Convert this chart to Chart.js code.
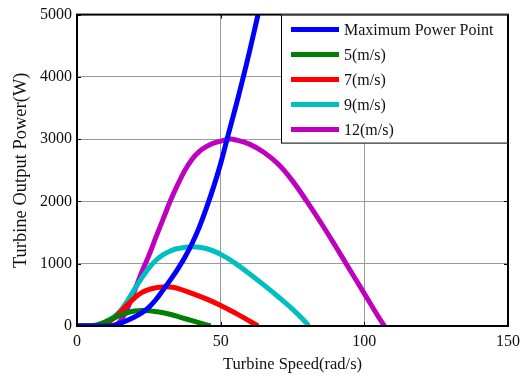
<!DOCTYPE html>
<html>
<head>
<meta charset="utf-8">
<script src="https://cdn.jsdelivr.net/npm/chart.js@4"></script>
<style>
  html, body { margin: 0; padding: 0; background: #fff; }
  #wrap { width: 526px; height: 380px; }
</style>
</head>
<body>
<div id="wrap"><canvas id="power-curves"></canvas></div>
<script>
// turbine output power vs rotor speed, one curve per wind speed + MPP locus
const mppSpeed = [0, 10, 12, 14, 16, 18, 20, 22.5, 25, 27.5, 30, 32.5, 35, 37.5, 40, 42.5, 45, 47.5, 50, 52.5, 55, 57.5, 60, 63];
const mppPower = [0, 0, 5, 25, 60, 100, 145, 210, 300, 425, 580, 740, 910, 1100, 1320, 1580, 1890, 2230, 2610, 3050, 3480, 3930, 4400, 5000];

const v5Speed = [0, 4, 6, 8, 10, 12, 15, 18, 20, 22.5, 25, 28, 30, 33, 36, 40, 43, 46.5];
const v5Power = [0, 0, 10, 35, 70, 110, 170, 220, 240, 250, 245, 228, 212, 180, 140, 85, 45, 0];

const v7Speed = [0, 5, 7, 9, 11, 13, 15, 17.5, 20, 22.5, 25, 27.5, 30, 32.5, 35, 40, 45, 50, 55, 60, 63];
const v7Power = [0, 0, 10, 30, 65, 130, 220, 340, 450, 535, 585, 615, 628, 625, 605, 525, 435, 330, 210, 80, 0];

const v9Speed = [0, 6, 8, 10, 12.5, 15, 17.5, 20, 22.5, 25, 27.5, 30, 32.5, 35, 40, 45, 50, 55, 60, 65, 70, 75, 80, 80.5];
const v9Power = [0, 0, 20, 60, 135, 240, 400, 590, 770, 930, 1055, 1145, 1205, 1245, 1272, 1245, 1150, 1010, 840, 660, 470, 270, 40, 0];

const v12Speed = [0, 10, 12, 14, 16, 18, 20, 22.5, 25, 27.5, 30, 32.5, 35, 37.5, 40, 42.5, 45, 47.5, 50, 53, 55, 60, 65, 70, 75, 80, 85, 90, 95, 100, 105, 107];
const v12Power = [0, 0, 0, 30, 140, 330, 560, 860, 1130, 1430, 1720, 2010, 2265, 2495, 2675, 2800, 2880, 2935, 2968, 3000, 2990, 2920, 2790, 2600, 2330, 2000, 1650, 1280, 900, 520, 140, 0];

const seriesLabels = ['Maximum Power Point', '5(m/s)', '7(m/s)', '9(m/s)', '12(m/s)'];
const seriesColors = ['#0000ff', '#008000', '#ff0000', '#00bfbf', '#bf00bf'];

const xTicks = [0, 50, 100, 150];
const yTicks = [0, 1000, 2000, 3000, 4000, 5000];

const SERIF = '"Liberation Serif", "Times New Roman", serif';
const FONT = { family: SERIF, size: 16 };

const pts = (xs, ys) => xs.map((x, i) => ({ x: x, y: ys[i] }));
const curves = [
  pts(mppSpeed, mppPower),
  pts(v5Speed, v5Power),
  pts(v7Speed, v7Power),
  pts(v9Speed, v9Power),
  pts(v12Speed, v12Power)
];

// box around the axes with short inward tick marks on every side
const axesBox = {
  id: 'axesBox',
  afterDatasetsDraw(chart) {
    const { ctx, chartArea: a, scales } = chart;
    ctx.save();
    ctx.strokeStyle = '#000';
    ctx.lineWidth = 1;
    const len = 4;
    ctx.beginPath();
    xTicks.forEach(v => {
      const px = Math.round(scales.x.getPixelForValue(v)) + 0.5;
      ctx.moveTo(px, a.bottom); ctx.lineTo(px, a.bottom - len);
      ctx.moveTo(px, a.top); ctx.lineTo(px, a.top + len);
    });
    yTicks.forEach(v => {
      const py = Math.round(scales.y.getPixelForValue(v)) + 0.5;
      ctx.moveTo(a.left, py); ctx.lineTo(a.left + len, py);
      ctx.moveTo(a.right, py); ctx.lineTo(a.right - len, py);
    });
    ctx.stroke();
    ctx.lineWidth = 2;
    ctx.strokeRect(a.left, a.top, a.right - a.left, a.bottom - a.top);
    ctx.restore();
  }
};

// legend box in the upper right corner of the plot
const boxLegend = {
  id: 'boxLegend',
  afterDraw(chart) {
    const { ctx, chartArea: a } = chart;
    const w = 227, h = 129;
    const x0 = a.right - w, y0 = a.top;
    ctx.save();
    ctx.fillStyle = '#fff';
    ctx.fillRect(x0, y0, w, h);
    ctx.strokeStyle = '#000';
    ctx.lineWidth = 1;
    ctx.strokeRect(x0 + 0.5, y0 + 0.5, w - 1, h - 1);
    ctx.font = FONT.size + 'px ' + FONT.family;
    ctx.textBaseline = 'middle';
    chart.data.datasets.forEach((ds, i) => {
      const y = y0 + 15 + i * 25;
      ctx.strokeStyle = ds.borderColor;
      ctx.lineWidth = 5;
      ctx.beginPath();
      ctx.moveTo(x0 + 10, y);
      ctx.lineTo(x0 + 58, y);
      ctx.stroke();
      ctx.fillStyle = '#111';
      ctx.fillText(ds.label, x0 + 63, y + 1);
    });
    ctx.restore();
  }
};

const gridColor = max => ctx => (ctx.tick.value === 0 || ctx.tick.value === max) ? 'rgba(0,0,0,0)' : '#9a9a9a';

new Chart(document.getElementById('power-curves'), {
  type: 'line',
  data: {
    datasets: curves.map((c, i) => ({
      label: seriesLabels[i],
      data: c,
      borderColor: seriesColors[i],
      backgroundColor: seriesColors[i],
      borderWidth: 5,
      pointRadius: 0,
      fill: false,
      tension: 0.4,
      clip: 0
    }))
  },
  options: {
    responsive: true,
    maintainAspectRatio: false,
    animation: false,
    layout: {
      padding: { left: 0, top: 10, right: 18, bottom: 0 }
    },
    plugins: {
      legend: { display: false },
      tooltip: { enabled: false }
    },
    scales: {
      x: {
        type: 'linear',
        min: 0,
        max: 150,
        afterBuildTicks: s => { s.ticks = xTicks.map(v => ({ value: v })); },
        afterFit: s => { s.height = 54; },
        ticks: { font: FONT, color: '#111', padding: 6, maxRotation: 0, callback: v => String(v) },
        grid: { color: gridColor(150), drawTicks: false, lineWidth: 1 },
        border: { display: false },
        title: { display: true, text: 'Turbine Speed(rad/s)', font: { family: SERIF, size: 16.5 }, color: '#111', padding: { top: 0, bottom: 5 } }
      },
      y: {
        type: 'linear',
        min: 0,
        max: 5000,
        afterBuildTicks: s => { s.ticks = yTicks.map(v => ({ value: v })); },
        afterFit: s => { s.width = 77; },
        ticks: { font: FONT, color: '#111', padding: 5, callback: v => String(v) },
        grid: { color: gridColor(5000), drawTicks: false, lineWidth: 1 },
        border: { display: false },
        title: { display: true, text: 'Turbine Output Power(W)', font: { family: SERIF, size: 18.5 }, color: '#111', padding: { top: 10, bottom: 0 } }
      }
    }
  },
  plugins: [axesBox, boxLegend]
});
</script>
</body>
</html>
